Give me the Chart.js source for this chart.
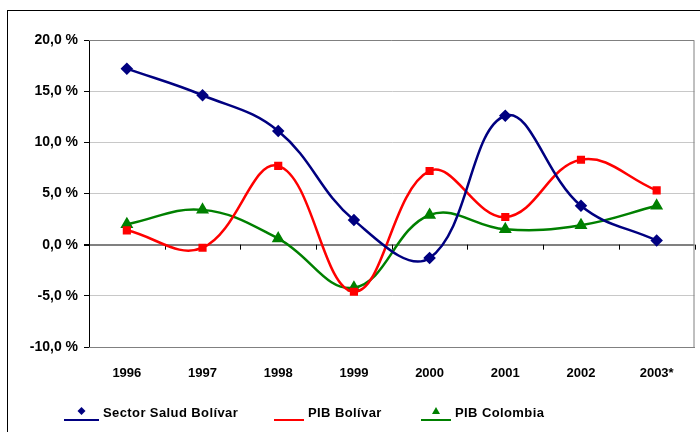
<!DOCTYPE html>
<html>
<head>
<meta charset="utf-8">
<script src="https://cdn.jsdelivr.net/npm/chart.js@4.4.0/dist/chart.umd.min.js"></script>
<style>
    html, body { margin: 0; padding: 0; background: #fff; overflow: hidden; }
    #contenedor { position: relative; width: 700px; height: 432px; overflow: hidden; }
    #marco { position: absolute; left: 7px; top: 10px; width: 760px; height: 480px; border: 1px solid #000; }
    #grafico { position: absolute; left: 0; top: 0; }
</style>
</head>
<body>
<div id="contenedor">
    <div id="marco"></div>
    <!-- el lienzo es 2px más ancho: Chart.js reserva ~5px a la derecha -->
    <canvas id="grafico" width="702" height="432"></canvas>
</div>
<script>
// Datos (variación anual, %)
const anios = ['1996', '1997', '1998', '1999', '2000', '2001', '2002', '2003*'];
const saludBolivar = [17.2, 14.6, 11.1, 2.4, -1.3, 12.6, 3.8, 0.4];
const pibBolivar = [1.4, -0.3, 7.7, -4.6, 7.2, 2.7, 8.3, 5.3];
const pibColombia = [2.0, 3.4, 0.6, -4.2, 2.9, 1.5, 1.9, 3.8];
const nombresSeries = ['Sector Salud Bolívar', 'PIB Bolívar', 'PIB Colombia'];

const fuente = 'Liberation Sans, Arial, sans-serif';

// Borde del área de trazado y marcas sobre la línea del cero
const marcoPlugin = {
    id: 'marcoArea',
    beforeDatasetsDraw(chart) {
        const { ctx, chartArea: a, scales } = chart;
        ctx.save();
        ctx.strokeStyle = '#808080';
        ctx.lineWidth = 1;
        ctx.beginPath();
        ctx.moveTo(a.left, a.top + 0.5);
        ctx.lineTo(a.right - 0.5, a.top + 0.5);
        ctx.lineTo(a.right - 0.5, a.bottom);
        ctx.stroke();

        // marcas del eje de categorías en y = 0
        const y0 = scales.y.getPixelForValue(0);
        const paso = scales.x.getPixelForValue(1) - scales.x.getPixelForValue(0);
        ctx.strokeStyle = '#000';
        ctx.beginPath();
        for (let i = 0; i <= anios.length; i++) {
            const x = Math.round(scales.x.getPixelForValue(i) - paso / 2) + 0.5;
            ctx.moveTo(x, y0);
            ctx.lineTo(x, y0 + 5);
        }
        ctx.stroke();
        ctx.restore();
    }
};

// Leyenda dibujada a mano (línea con marcador encima)
const leyendaPlugin = {
    id: 'leyendaAbajo',
    afterDraw(chart) {
        const { ctx } = chart;
        const items = [
            { x: 64, ancho: 35, ds: 0, marcador: true },
            { x: 274, ancho: 30, ds: 1, marcador: false },
            { x: 421, ancho: 30, ds: 2, marcador: true }
        ];
        ctx.save();
        items.forEach(it => {
            const ds = chart.data.datasets[it.ds];
            ctx.strokeStyle = ds.borderColor;
            ctx.lineWidth = 2;
            ctx.beginPath();
            ctx.moveTo(it.x, 420);
            ctx.lineTo(it.x + it.ancho, 420);
            ctx.stroke();
            if (it.marcador) {
                const cx = it.x + it.ancho / 2;
                ctx.fillStyle = ds.borderColor;
                ctx.beginPath();
                if (ds.pointStyle === 'triangle') {
                    ctx.moveTo(cx, 407);
                    ctx.lineTo(cx + 4, 414);
                    ctx.lineTo(cx - 4, 414);
                } else {
                    ctx.moveTo(cx, 407);
                    ctx.lineTo(cx + 4, 411);
                    ctx.lineTo(cx, 415);
                    ctx.lineTo(cx - 4, 411);
                }
                ctx.closePath();
                ctx.fill();
            }
            ctx.fillStyle = '#000';
            ctx.font = 'bold 13px ' + fuente;
            ctx.letterSpacing = '0.4px';
            ctx.textBaseline = 'middle';
            ctx.fillText(ds.label, it.x + it.ancho + 4, 413);
        });
        ctx.restore();
    }
};

new Chart(document.getElementById('grafico'), {
    type: 'line',
    data: {
        labels: anios,
        datasets: [{
            label: nombresSeries[0],
            data: saludBolivar,
            borderColor: '#000080',
            backgroundColor: '#000080',
            borderWidth: 2.5,
            pointStyle: 'rectRot',
            pointRadius: 4.5,
            tension: 0.4
        }, {
            label: nombresSeries[1],
            data: pibBolivar,
            borderColor: '#ff0000',
            backgroundColor: '#ff0000',
            borderWidth: 2.5,
            pointStyle: 'rect',
            pointRadius: 4,
            tension: 0.4
        }, {
            label: nombresSeries[2],
            data: pibColombia,
            borderColor: '#008000',
            backgroundColor: '#008000',
            borderWidth: 2.5,
            pointStyle: 'triangle',
            pointRadius: 5,
            tension: 0.4
        }]
    },
    options: {
        responsive: false,
        animation: false,
        layout: {
            padding: { left: 0, top: 40, right: 0, bottom: 0 }
        },
        plugins: {
            legend: { display: false },
            tooltip: { enabled: false }
        },
        scales: {
            y: {
                min: -10,
                max: 20,
                afterFit: scale => { scale.width = 89; },
                ticks: {
                    stepSize: 5,
                    color: '#000',
                    padding: 6,
                    font: { family: fuente, size: 14, weight: 'bold' },
                    callback: v => v.toFixed(1).replace('.', ',') + ' %'
                },
                grid: {
                    color: c => c.tick && c.tick.value === 0 ? '#808080' : '#c8c8c8',
                    lineWidth: c => c.tick && c.tick.value === 0 ? 2 : 1,
                    tickColor: '#000',
                    tickLength: 5
                },
                border: { color: '#000', width: 1 }
            },
            x: {
                offset: true,
                afterFit: scale => { scale.height = 85; },
                ticks: {
                    color: '#000',
                    padding: 11,
                    font: { family: fuente, size: 13, weight: 'bold' }
                },
                grid: { display: false },
                border: { color: '#808080', width: 1 }
            }
        }
    },
    plugins: [marcoPlugin, leyendaPlugin]
});
</script>
</body>
</html>
